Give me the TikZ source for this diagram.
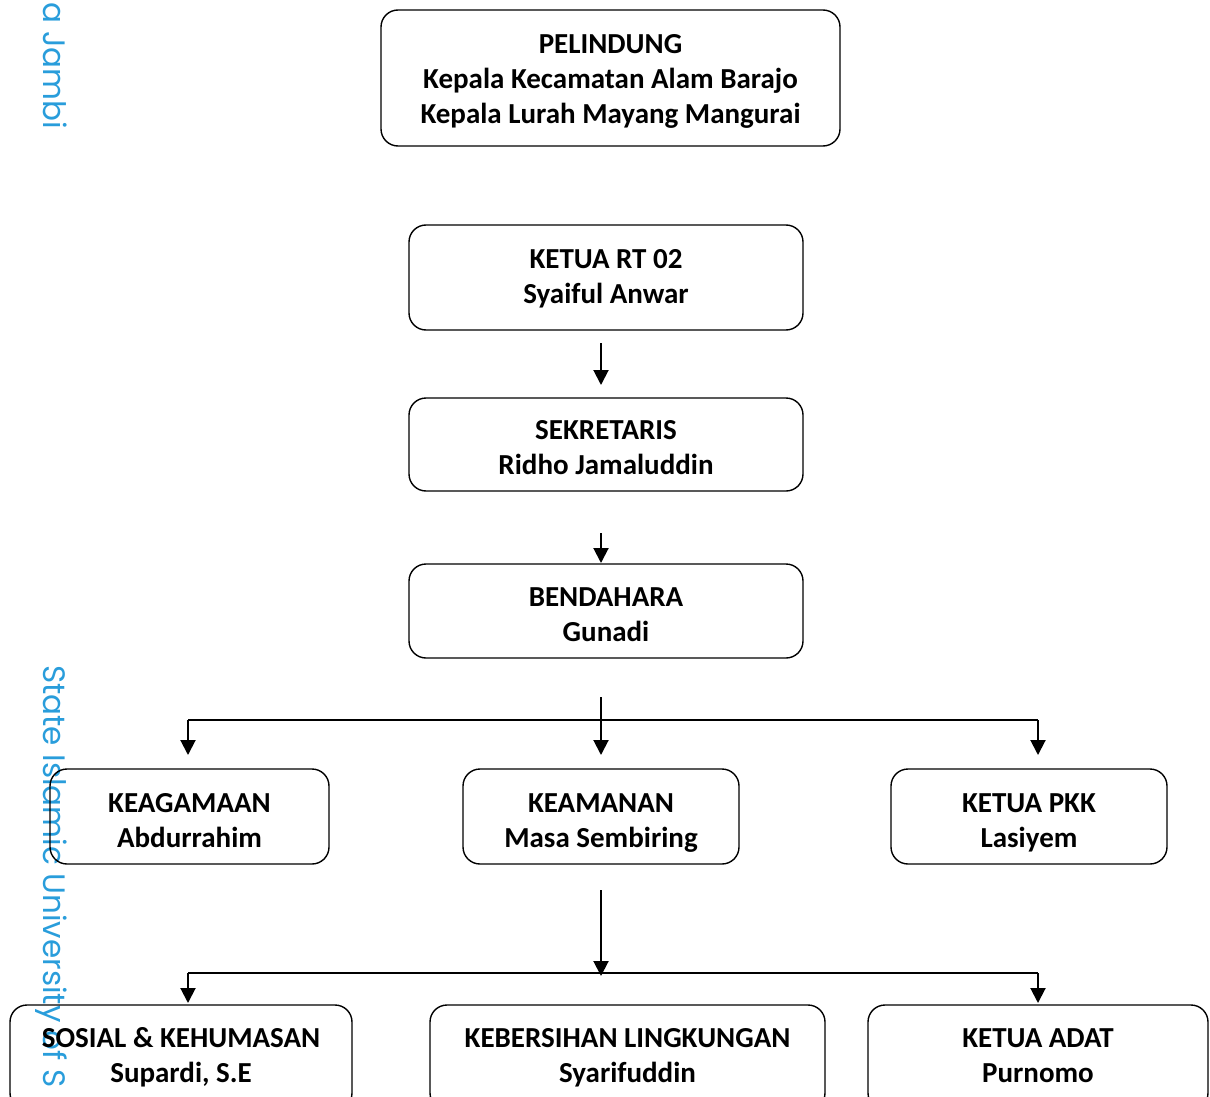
\documentclass[tikz,border=0pt]{standalone}
\usepackage{fontspec}
\setmainfont{Carlito}
\newfontfamily\wmfont{Poppins}
\usetikzlibrary{arrows.meta}
\definecolor{wmblue}{RGB}{41,157,219}
\newcommand{\bt}[2]{\raisebox{-#1pt}[\height][\depth]{\begin{tabular}{@{}c@{}}#2\end{tabular}}}
\begin{document}
\begin{tikzpicture}[x=1pt,y=-1pt,
  box/.style={draw=black,line width=1.4pt,rounded corners=17pt,inner sep=0pt,
    font=\fontsize{29}{35}\selectfont\bfseries},
  arr/.style={line width=2pt,-{Triangle[width=15pt,length=15pt]}},
  ln/.style={line width=2pt},
  wm/.style={rotate=-90,anchor=base west,inner sep=0pt,text=wmblue,font=\wmfont\fontsize{31}{31}\selectfont}]
\useasboundingbox (0,0) rectangle (1210,1097);
% watermark
\node[wm] (wm1) at (43,2) {a Jambi};
\node[wm] (wm2) at (43,665) {State Islamic University of S};
% boxes
\node[box,minimum width=459pt,minimum height=136pt] (pel) at (610.5,78) {\bt{4}{PELINDUNG\\Kepala Kecamatan Alam Barajo\\Kepala Lurah Mayang Mangurai}};
\node[box,minimum width=394pt,minimum height=105pt] (rt) at (606,277.5) {\bt{1}{KETUA RT 02\\Syaiful Anwar}};
\node[box,minimum width=394pt,minimum height=93pt] (sek) at (606,444.5) {\bt{5}{SEKRETARIS\\Ridho Jamaluddin}};
\node[box,minimum width=394pt,minimum height=94pt] (ben) at (606,611) {\bt{6}{BENDAHARA\\Gunadi}};
\node[box,minimum width=279pt,minimum height=95pt] (keag) at (189.5,816.5) {\bt{6}{KEAGAMAAN\\Abdurrahim}};
\node[box,minimum width=276pt,minimum height=95pt] (keam) at (601,816.5) {\bt{6}{KEAMANAN\\Masa Sembiring}};
\node[box,minimum width=276pt,minimum height=95pt] (pkk) at (1029,816.5) {\bt{6}{KETUA PKK\\Lasiyem}};
\node[box,minimum width=342pt,minimum height=105pt] (sos) at (181,1057.5) {\bt{0}{SOSIAL \& KEHUMASAN\\Supardi, S.E}};
\node[box,minimum width=395pt,minimum height=105pt] (keb) at (627.5,1057.5) {\bt{0}{KEBERSIHAN LINGKUNGAN\\Syarifuddin}};
\node[box,minimum width=340pt,minimum height=105pt] (adat) at (1038,1057.5) {\bt{0}{KETUA ADAT\\Purnomo}};
% connector coordinates
\coordinate (a1s) at (601,343);
\coordinate (a1e) at (601,385);
\coordinate (a2s) at (601,533);
\coordinate (a2e) at (601,563);
\coordinate (b0) at (601,697);
\coordinate (b1) at (601,755);
\coordinate (bl) at (188,720);
\coordinate (br) at (1038,720);
\coordinate (ble) at (188,755);
\coordinate (bre) at (1038,755);
\coordinate (c0) at (601,890);
\coordinate (c1) at (601,976);
\coordinate (cl) at (188,973);
\coordinate (cr) at (1038,973);
\coordinate (cle) at (188,1003);
\coordinate (cre) at (1038,1003);
% connectors
\draw[arr] (a1s) -- (a1e);
\draw[arr] (a2s) -- (a2e);
\draw[arr] (b0) -- (b1);
\draw[ln] (bl) -- (br);
\draw[arr] (bl) -- (ble);
\draw[arr] (br) -- (bre);
\draw[arr] (c0) -- (c1);
\draw[ln] (cl) -- (cr);
\draw[arr] (cl) -- (cle);
\draw[arr] (cr) -- (cre);
\end{tikzpicture}
\end{document}
